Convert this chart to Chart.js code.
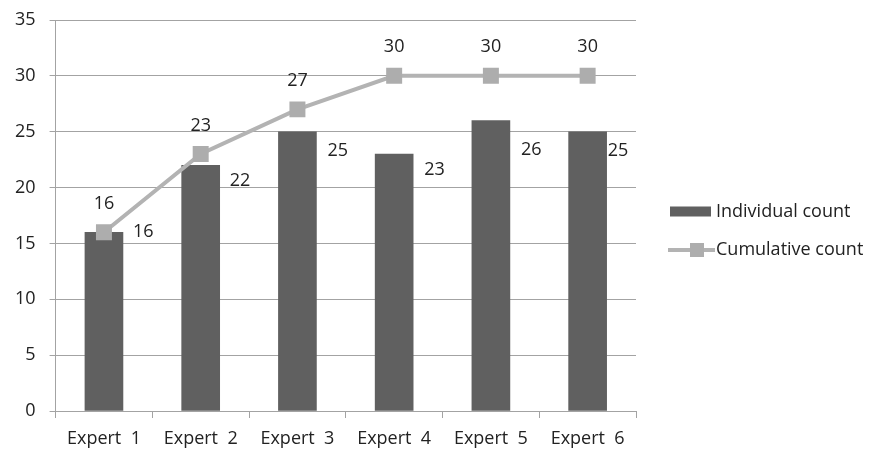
<!DOCTYPE html>
<html>
<head>
<meta charset="utf-8">
<script src="https://cdn.jsdelivr.net/npm/chart.js@4.4.1/dist/chart.umd.min.js"></script>
<style>
  html, body { margin: 0; padding: 0; background: #ffffff; }
  #wrap { width: 873px; height: 454px; position: relative; }
</style>
</head>
<body>
<div id="wrap"><canvas id="chart" width="873" height="454"></canvas></div>
<script>
// Categories and series values
const experts = ['Expert  1', 'Expert  2', 'Expert  3', 'Expert  4', 'Expert  5', 'Expert  6'];
const individualCount = [16, 22, 25, 23, 26, 25];
const cumulativeCount = [16, 23, 27, 30, 30, 30];
const yTicks = [0, 5, 10, 15, 20, 25, 30, 35];

// Label placement beside each bar: [dx from bar centre, dy from bar top], in pixels
const barLabelOffsets = [[29, 0], [29, 16], [30, 19.5], [30, 16], [30, 29], [20, 19.5]];
const lineLabelLift = 28.5;

const FONT = '"Open Sans", "Liberation Sans", sans-serif';
const TEXT = '#222222';
const GRID = '#a3a3a3';
const BAR = '#606060';
const LINE = '#b3b3b3';
const MARK = '#adadad';

// Value labels: beside the bars, above the cumulative points
const valueLabels = {
  id: 'valueLabels',
  afterDatasetsDraw(chart) {
    const ctx = chart.ctx;
    ctx.save();
    ctx.font = '18px ' + FONT;
    ctx.fillStyle = TEXT;
    ctx.textBaseline = 'middle';
    const bars = chart.getDatasetMeta(0).data;
    bars.forEach((el, i) => {
      const [dx, dy] = barLabelOffsets[i];
      ctx.textAlign = 'left';
      ctx.fillText(String(individualCount[i]), el.x + dx, el.y + dy);
    });
    const pts = chart.getDatasetMeta(1).data;
    pts.forEach((el, i) => {
      ctx.textAlign = 'center';
      ctx.fillText(String(cumulativeCount[i]), el.x, el.y - lineLabelLift);
    });
    ctx.restore();
  }
};

// Legend on the right: bar swatch and line-with-marker swatch
const sideLegend = {
  id: 'sideLegend',
  afterDraw(chart) {
    const ctx = chart.ctx;
    const a = chart.chartArea;
    const x0 = a.right + 32;
    const y1 = a.top + 191.5;
    const y2 = a.top + 230;
    ctx.save();
    ctx.fillStyle = BAR;
    ctx.fillRect(x0 + 2, y1 - 5, 41, 10);
    ctx.strokeStyle = LINE;
    ctx.lineWidth = 4;
    ctx.beginPath();
    ctx.moveTo(x0, y2);
    ctx.lineTo(x0 + 47, y2);
    ctx.stroke();
    ctx.fillStyle = MARK;
    ctx.fillRect(x0 + 22, y2 - 7, 14, 14);
    ctx.font = '18px ' + FONT;
    ctx.fillStyle = TEXT;
    ctx.textAlign = 'left';
    ctx.textBaseline = 'middle';
    ctx.fillText('Individual count', x0 + 48, y1);
    ctx.fillText('Cumulative count', x0 + 48, y2);
    ctx.restore();
  }
};

new Chart(document.getElementById('chart'), {
  data: {
    labels: experts,
    datasets: [
      {
        type: 'bar',
        label: 'Individual count',
        data: individualCount,
        backgroundColor: BAR,
        borderWidth: 0,
        barThickness: 38,
        order: 2
      },
      {
        type: 'line',
        label: 'Cumulative count',
        data: cumulativeCount,
        borderColor: LINE,
        borderWidth: 4,
        tension: 0,
        pointStyle: 'rect',
        pointRadius: 11.3,
        pointHoverRadius: 11.3,
        pointBackgroundColor: MARK,
        pointBorderWidth: 0,
        order: 1
      }
    ]
  },
  options: {
    responsive: false,
    animation: false,
    events: [],
    layout: { padding: { left: 1, right: 237, top: 20, bottom: 4 } },
    plugins: {
      legend: { display: false },
      tooltip: { enabled: false }
    },
    scales: {
      x: {
        afterFit(scale) { scale.height = 39; },
        grid: { display: true, drawOnChartArea: false, offset: true, tickLength: 7, color: GRID },
        border: { display: true, color: GRID, width: 1 },
        ticks: { color: TEXT, font: { family: FONT, size: 18 }, padding: 10, maxRotation: 0 }
      },
      y: {
        min: 0,
        max: 35,
        afterBuildTicks(scale) { scale.ticks = yTicks.map(v => ({ value: v })); },
        afterFit(scale) { scale.paddingTop = 0; scale.paddingBottom = 0; },
        grid: { color: GRID, tickLength: 6 },
        border: { display: true, color: GRID, width: 1 },
        ticks: { color: TEXT, font: { family: FONT, size: 18 }, padding: 14 }
      }
    }
  },
  plugins: [valueLabels, sideLegend]
});
</script>
</body>
</html>
